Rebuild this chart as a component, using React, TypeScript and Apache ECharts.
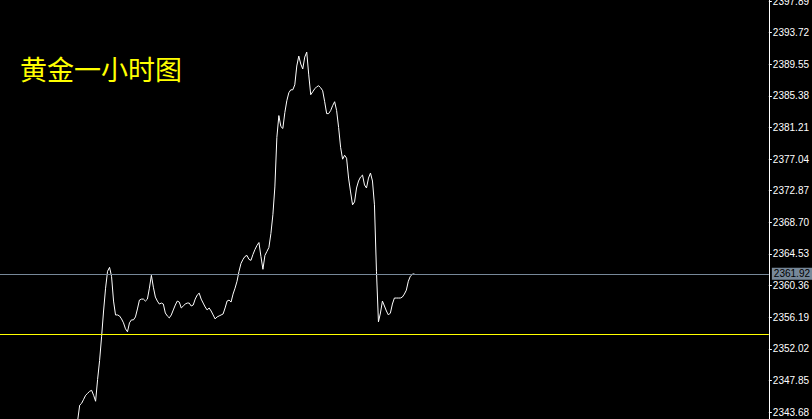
import React, { useEffect, useRef } from "react";
import * as echarts from "echarts";

// Hourly gold close prices (one value per bar)
const closePrices: number[] = [
  2342.6, 2344.59, 2344.85, 2345.37, 2345.9, 2346.16, 2346.42, 2346.55, 2345.9, 2345.11,
  2347.99, 2350.47, 2353.61, 2357.01, 2360.02, 2362.25, 2362.77, 2361.59, 2358.32, 2356.49,
  2356.49, 2356.36, 2355.97, 2355.45, 2354.66, 2354.27, 2355.45, 2355.84, 2355.84, 2356.23,
  2357.28, 2358.45, 2358.58, 2358.58, 2358.32, 2358.58, 2360.02, 2361.72, 2360.15, 2358.85,
  2358.32, 2357.93, 2358.06, 2357.93, 2356.75, 2356.36, 2356.1, 2356.49, 2357.15, 2357.8,
  2358.32, 2358.19, 2357.41, 2357.67, 2357.93, 2358.06, 2358.06, 2357.67, 2357.8, 2358.58,
  2359.11, 2359.37, 2358.58, 2358.06, 2357.54, 2357.15, 2357.41, 2357.01, 2356.49, 2355.97,
  2356.23, 2356.36, 2356.49, 2356.62, 2357.41, 2358.32, 2358.45, 2358.19, 2359.24, 2360.02,
  2360.94, 2362.25, 2363.29, 2363.82, 2364.21, 2364.34, 2363.82, 2363.69, 2364.47, 2365.12,
  2365.65, 2366.04, 2364.21, 2362.51, 2364.34, 2364.86, 2365.39, 2367.22, 2369.7, 2373.37,
  2379.91, 2382.78, 2381.34, 2381.08, 2383.18, 2384.74, 2385.79, 2386.18, 2386.18, 2386.84,
  2389.32, 2390.63, 2389.58, 2388.93, 2390.5, 2391.15, 2388.15, 2385.53, 2385.92, 2386.31,
  2386.58, 2386.71, 2386.45, 2386.05, 2384.61, 2383.04, 2383.04, 2383.44, 2384.09, 2384.61,
  2383.44, 2381.21, 2378.6, 2377.03, 2377.55, 2377.16, 2374.54, 2372.71, 2371.01, 2371.4,
  2373.23, 2374.15, 2374.67, 2374.93, 2373.63, 2373.23, 2374.54, 2375.2, 2374.15, 2371.01,
  2362.25, 2355.58, 2356.75, 2358.32, 2357.67, 2357.01, 2356.49, 2356.75, 2357.93, 2358.72,
  2358.72, 2358.72, 2358.72, 2358.85, 2359.24, 2359.76, 2360.94, 2361.59, 2361.85, 2361.92,
];

// Price-axis tick labels
const priceTicks: number[] = [
  2343.68, 2347.85, 2352.02, 2356.19, 2360.36, 2364.53, 2368.7, 2372.87, 2377.04,
  2381.21, 2385.38, 2389.55, 2393.72, 2397.89,
];

const bidPrice = 2361.92;
const supportLevel = 2354.0;
const chartTitle = "黄金一小时图";

export default function App() {
  const ref = useRef<HTMLDivElement>(null);

  useEffect(() => {
    document.body.style.margin = "0";
    document.body.style.overflow = "hidden";
    document.body.style.background = "#000000";
    if (!ref.current) return;
    const chart = echarts.init(ref.current, undefined, { renderer: "svg" });
    const seriesData = closePrices.map((v, i) => [i, v]);
    chart.setOption({
      animation: false,
      backgroundColor: "#000000",
      grid: { left: 0, right: 40, top: 0, bottom: 0, containLabel: false },
      xAxis: {
        type: "value",
        min: -39,
        max: 347,
        show: false,
      },
      yAxis: {
        type: "value",
        position: "right",
        min: 2342.77,
        max: 2398.07,
        scale: true,
        splitLine: { show: false },
        axisLine: { show: true, onZero: false, lineStyle: { color: "#ffffff", width: 1 } },
        axisTick: {
          show: true,
          inside: false,
          length: 3,
          customValues: priceTicks,
          lineStyle: { color: "#ffffff" },
        },
        axisLabel: {
          show: true,
          customValues: priceTicks,
          color: "#ffffff",
          fontSize: 10,
          fontFamily: "Liberation Sans, Arial, sans-serif",
          margin: 4,
          formatter: (v: number) => v.toFixed(2),
        },
      },
      graphic: [
        {
          type: "text",
          x: 20,
          y: 72,
          style: {
            text: chartTitle,
            fill: "#ffff00",
            font: '27px "Noto Sans CJK SC"',
            verticalAlign: "middle",
          },
        },
      ],
      series: [
        {
          type: "line",
          data: seriesData,
          showSymbol: false,
          symbol: "none",
          lineStyle: { color: "#ffffff", width: 1 },
          z: 3,
          markLine: {
            symbol: "none",
            silent: true,
            animation: false,
            data: [
              {
                yAxis: bidPrice,
                lineStyle: { color: "#778899", width: 1, type: "solid" },
                label: {
                  show: true,
                  position: "end",
                  distance: 3,
                  formatter: bidPrice.toFixed(2),
                  backgroundColor: "#778899",
                  color: "#000000",
                  fontSize: 10,
                  fontFamily: "Liberation Sans, Arial, sans-serif",
                  padding: [1, 2, 1, 2],
                },
              },
              {
                yAxis: supportLevel,
                lineStyle: { color: "#ffff00", width: 1, type: "solid" },
                label: { show: false },
              },
            ],
          },
        },
      ],
    });
    return () => chart.dispose();
  }, []);

  return <div ref={ref} style={{ width: 812, height: 423, marginTop: -4 }} />;
}
